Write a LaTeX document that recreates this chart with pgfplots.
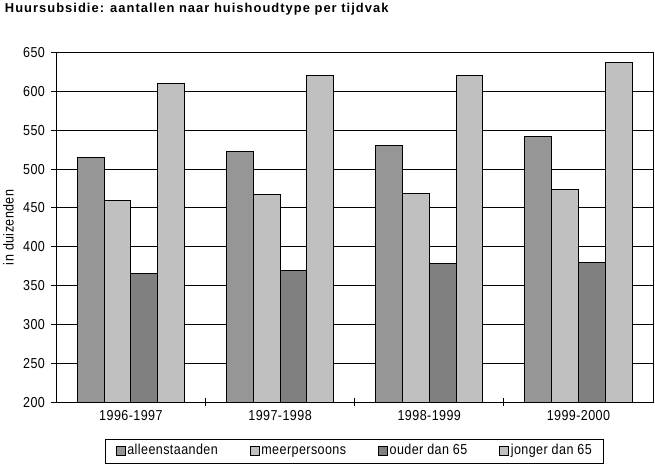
\documentclass[border=0pt]{standalone}
\usepackage{fontspec}
\setmainfont{Liberation Sans}
\newfontfamily\titlefont[LetterSpace=8]{Liberation Sans}
\newfontfamily\lsfont[LetterSpace=3, FakeStretch=0.87]{Liberation Sans}
\usepackage{pgfplots}
\pgfplotsset{compat=1.18}
\definecolor{cA}{HTML}{969696}
\definecolor{cB}{HTML}{C0C0C0}
\definecolor{cC}{HTML}{808080}
\begin{document}
\begin{tikzpicture}[x=1pt,y=1pt]
\path (0,0) rectangle (655,471);
\node[anchor=base west, inner sep=0pt, font=\titlefont\bfseries\fontsize{13}{15}\selectfont] at (0,458) {Huursubsidie: aantallen naar huishoudtype per tijdvak};
\begin{axis}[
  at={(52pt,66pt)}, anchor=south west,
  width=601pt, height=352pt, scale only axis,
  xmin=-0.5, xmax=3.5, ymin=200, ymax=650,
  ytick={200,250,...,650},
  ybar=0pt, bar width=27pt,
  axis line style={black, line width=1pt},
  ymajorgrids, grid style={black, line width=0.9pt},
  tick style={black, line width=1pt},
  major tick length=8pt,
  tick align=outside,
  ytick pos=left, xtick pos=bottom,
  ytick style={xshift=3pt},
  xtick={0.5,1.5,2.5}, xticklabels={},
  xtick style={yshift=4pt},
  extra x ticks={0,1,2,3},
  extra x tick labels={1996-1997,1997-1998,1998-1999,1999-2000},
  extra x tick style={major tick length=0pt, grid=none},
  /pgf/number format/assume math mode=true,
  tick label style={font=\lsfont\fontsize{14.5}{16}\selectfont, black},
  yticklabel style={xshift=0pt},
  xticklabel style={yshift=-5pt},
  ylabel={in duizenden},
  ylabel style={at={(axis description cs:-0.08,0.5)}, anchor=center, font=\lsfont\fontsize{14.5}{16}\selectfont},
  legend columns=4,
  legend style={at={(0.5,-0.142)}, anchor=center, draw=black, line width=1pt,
    font=\lsfont\fontsize{14.5}{16}\selectfont, inner xsep=10pt, inner ysep=5pt,
    nodes={text height=1.6ex, text depth=0.4ex},
    /tikz/every even column/.append style={column sep=30pt}},
  legend cell align=left,
  legend image code/.code={\draw[#1, draw=black, line width=0.8pt] (0pt,-4pt) rectangle (9pt,5pt);},
  every axis plot/.append style={draw=black, line width=1pt},
]
\addplot[fill=cA] coordinates {(0,515) (1,523) (2,531) (3,542)};
\addplot[fill=cB] coordinates {(0,460) (1,467) (2,468) (3,474)};
\addplot[fill=cC] coordinates {(0,365) (1,370) (2,378) (3,380)};
\addplot[fill=cB] coordinates {(0,610) (1,621) (2,621) (3,637)};
\legend{alleenstaanden,meerpersoons,ouder dan 65,jonger dan 65}
\end{axis}
\end{tikzpicture}
\end{document}
